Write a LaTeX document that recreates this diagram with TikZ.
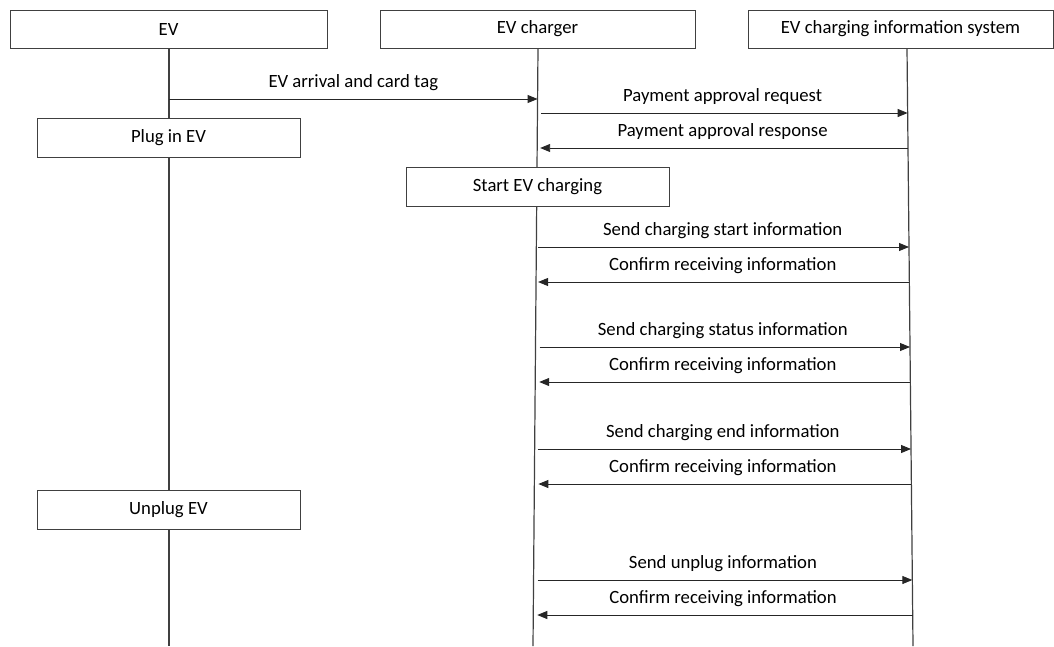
\documentclass[tikz,border=0pt]{standalone}
\usepackage{fontspec}
\setmainfont{Carlito}
\usepackage{tikz}
\usetikzlibrary{arrows.meta,positioning,calc}

\tikzset{
  head/.style={draw=black!75, line width=1pt, fill=white, minimum height=38pt, inner sep=0pt},
  act/.style={draw=black!75, line width=1pt, fill=white, minimum width=263pt, minimum height=39pt, inner sep=0pt},
  life/.style={draw=black!75, line width=1.2pt},
  msg/.style={draw=black!85, line width=0.9pt, -{Triangle[length=10pt,width=8pt]}},
  lbl/.style={above=8pt, inner sep=0pt}
}

\begin{document}
\begin{tikzpicture}[x=1pt, y=-1pt, font=\fontsize{18.7}{22}\selectfont]
\useasboundingbox (0,0) rectangle (1054,646);

% lifeline ends
\coordinate (EV0) at (169,48);
\coordinate (EV1) at (169,646);
\coordinate (CH0) at (538,48);
\coordinate (CH1) at (533,646);
\coordinate (IS0) at (907,48);
\coordinate (IS1) at (913,646);

\draw[life] (EV0) -- (EV1);
\draw[life] (CH0) -- (CH1);
\draw[life] (IS0) -- (IS1);

\node[head, minimum width=317pt] (EV) at (168.5,29) {EV};
\node[head, minimum width=315pt] (CH) at (537.5,29) {EV charger};
\node[head, minimum width=305pt] (IS) at (900.5,29) {EV charging information system};

\node[act] (P) at (168.5,137.5) {Plug in EV};
\node[act] (S) at (537.5,186.5) {Start EV charging};
\node[act] (U) at (168.5,510) {Unplug EV};

% message rows on each lifeline
\foreach \n/\y in {1/99,2/113,3/148,4/247,5/282,6/347,7/382,8/449,9/484,10/580,11/615}{
  \coordinate (ev\n) at ($(EV0)!{(\y-48)/598}!(EV1)$);
  \coordinate (ch\n) at ($(CH0)!{(\y-48)/598}!(CH1)$);
  \coordinate (is\n) at ($(IS0)!{(\y-48)/598}!(IS1)$);
}

\draw[msg] (ev1) -- (ch1) node[midway, lbl] {EV arrival and card tag};
\draw[msg, shorten <=4pt] (ch2) -- (is2) node[midway, lbl] {Payment approval request};
\draw[msg, shorten >=3pt] (is3) -- (ch3) node[midway, lbl] {Payment approval response};
\draw[msg, shorten <=2pt] (ch4) -- (is4) node[midway, lbl] {Send charging start information};
\draw[msg, shorten >=2pt] (is5) -- (ch5) node[midway, lbl] {Confirm receiving information};
\draw[msg, shorten <=4pt] (ch6) -- (is6) node[midway, lbl] {Send charging status information};
\draw[msg, shorten >=4pt] (is7) -- (ch7) node[midway, lbl] {Confirm receiving information};
\draw[msg, shorten <=3pt] (ch8) -- (is8) node[midway, lbl] {Send charging end information};
\draw[msg, shorten >=4pt] (is9) -- (ch9) node[midway, lbl] {Confirm receiving information};
\draw[msg, shorten <=4pt] (ch10) -- (is10) node[midway, lbl] {Send unplug information};
\draw[msg, shorten >=4pt] (is11) -- (ch11) node[midway, lbl] {Confirm receiving information};

\end{tikzpicture}
\end{document}
